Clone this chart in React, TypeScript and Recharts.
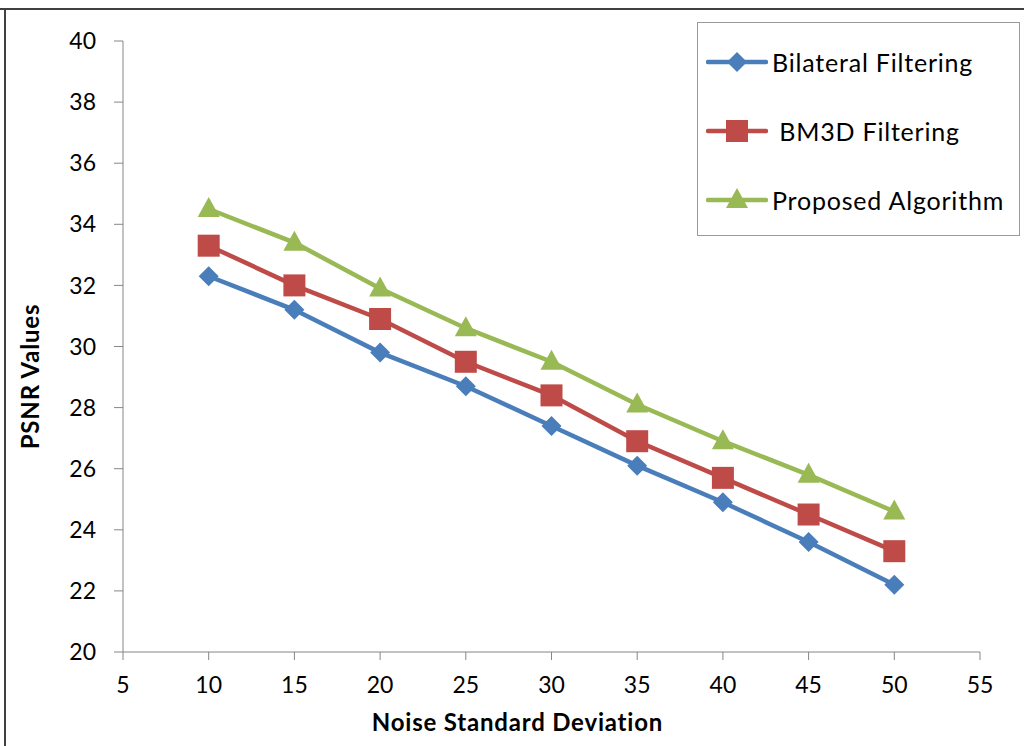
import { LineChart, Line, XAxis, YAxis, Label } from "recharts";

const noiseLevels = [10, 15, 20, 25, 30, 35, 40, 45, 50];
const bilateral = [32.3, 31.2, 29.8, 28.7, 27.4, 26.1, 24.9, 23.6, 22.2];
const bm3d = [33.3, 32.0, 30.9, 29.5, 28.4, 26.9, 25.7, 24.5, 23.3];
const proposed = [34.5, 33.4, 31.9, 30.6, 29.5, 28.1, 26.9, 25.8, 24.6];

const xTicks = [5, 10, 15, 20, 25, 30, 35, 40, 45, 50, 55];
const yTicks = [20, 22, 24, 26, 28, 30, 32, 34, 36, 38, 40];

const seriesInfo = [
  { key: "bilateral", name: "Bilateral Filtering", color: "#4A7EBB", shape: "diamond" },
  { key: "bm3d", name: " BM3D Filtering", color: "#BE4B48", shape: "square" },
  { key: "proposed", name: "Proposed Algorithm", color: "#98B954", shape: "triangle" },
];

const data = noiseLevels.map((x, i) => ({
  x,
  bilateral: bilateral[i],
  bm3d: bm3d[i],
  proposed: proposed[i],
}));

const FONT = "Lato, 'Open Sans', sans-serif";
const AXIS_COLOR = "#868686";

const markerPath = (shape: string, cx: number, cy: number) => {
  if (shape === "diamond") {
    const r = 10;
    return `M${cx},${cy - r}L${cx + r},${cy}L${cx},${cy + r}L${cx - r},${cy}Z`;
  }
  if (shape === "square") {
    const r = 11;
    return `M${cx - r},${cy - r}h${2 * r}v${2 * r}h${-2 * r}Z`;
  }
  return `M${cx},${cy - 12}L${cx + 11},${cy + 8}L${cx - 11},${cy + 8}Z`;
};

const makeDot = (shape: string, color: string) => (props: any) => {
  const { cx, cy, index } = props;
  if (cx == null || cy == null) return <g key={index} />;
  return <path key={index} d={markerPath(shape, cx, cy)} fill={color} />;
};

// legend box sits over the top-right corner of the plot
const LegendBox = () => (
  <div
    style={{
      position: "absolute",
      left: 697,
      top: 22,
      width: 323,
      height: 214,
      border: "1px solid #9a9a9a",
      background: "#fff",
      fontFamily: FONT,
      fontSize: 25,
      letterSpacing: 0.8,
      color: "#000",
      boxSizing: "border-box",
    }}
  >
    {seriesInfo.map((s, i) => (
      <div
        key={s.key}
        style={{
          position: "absolute",
          left: 8,
          top: 22 + i * 69,
          height: 34,
          display: "flex",
          alignItems: "center",
        }}
      >
        <svg width={62} height={34}>
          <line x1={2} y1={17} x2={60} y2={17} stroke={s.color} strokeWidth={4.5} strokeLinecap="round" />
          <path d={markerPath(s.shape, 31, 17)} fill={s.color} />
        </svg>
        <span style={{ marginLeft: 4, whiteSpace: "pre" }}>{s.name}</span>
      </div>
    ))}
  </div>
);

export default function App() {
  return (
    <div style={{ position: "absolute", left: 0, top: 0, width: 1024, height: 746, background: "#fff" }}>
      <div style={{ position: "absolute", left: 0, top: 8, width: 1024, height: 2, background: "#404040" }} />
      <div style={{ position: "absolute", left: 4, top: 8, width: 2, height: 738, background: "#404040" }} />
      <LineChart
        width={1024}
        height={746}
        data={data}
        margin={{ top: 41, right: 44, bottom: 0, left: 0 }}
      >
        <XAxis
          dataKey="x"
          type="number"
          domain={[5, 55]}
          ticks={xTicks}
          interval={0}
          stroke={AXIS_COLOR}
          tickSize={8}
          tickMargin={17}
          tick={{ fill: "#000", fontSize: 23, fontFamily: FONT }}
          height={94}
        >
          <Label
            value="Noise Standard Deviation"
            position="insideBottom"
            offset={15}
            dx={-34}
            style={{ fill: "#000", fontSize: 24, fontWeight: 700, fontFamily: FONT, letterSpacing: 0.8 }}
          />
        </XAxis>
        <YAxis
          type="number"
          domain={[20, 40]}
          ticks={yTicks}
          interval={0}
          stroke={AXIS_COLOR}
          tickSize={9}
          tickMargin={18}
          tick={{ fill: "#000", fontSize: 23, fontFamily: FONT }}
          width={123}
        >
          <Label
            value="PSNR Values"
            angle={-90}
            position="insideLeft"
            offset={30}
            dy={30}
            style={{ fill: "#000", fontSize: 24, fontWeight: 700, fontFamily: FONT, letterSpacing: 0.8, textAnchor: "middle" }}
          />
        </YAxis>
        {seriesInfo.map((s) => (
          <Line
            key={s.key}
            dataKey={s.key}
            name={s.name}
            stroke={s.color}
            strokeWidth={4.5}
            dot={makeDot(s.shape, s.color)}
            activeDot={false}
            isAnimationActive={false}
          />
        ))}
      </LineChart>
      <LegendBox />
    </div>
  );
}
